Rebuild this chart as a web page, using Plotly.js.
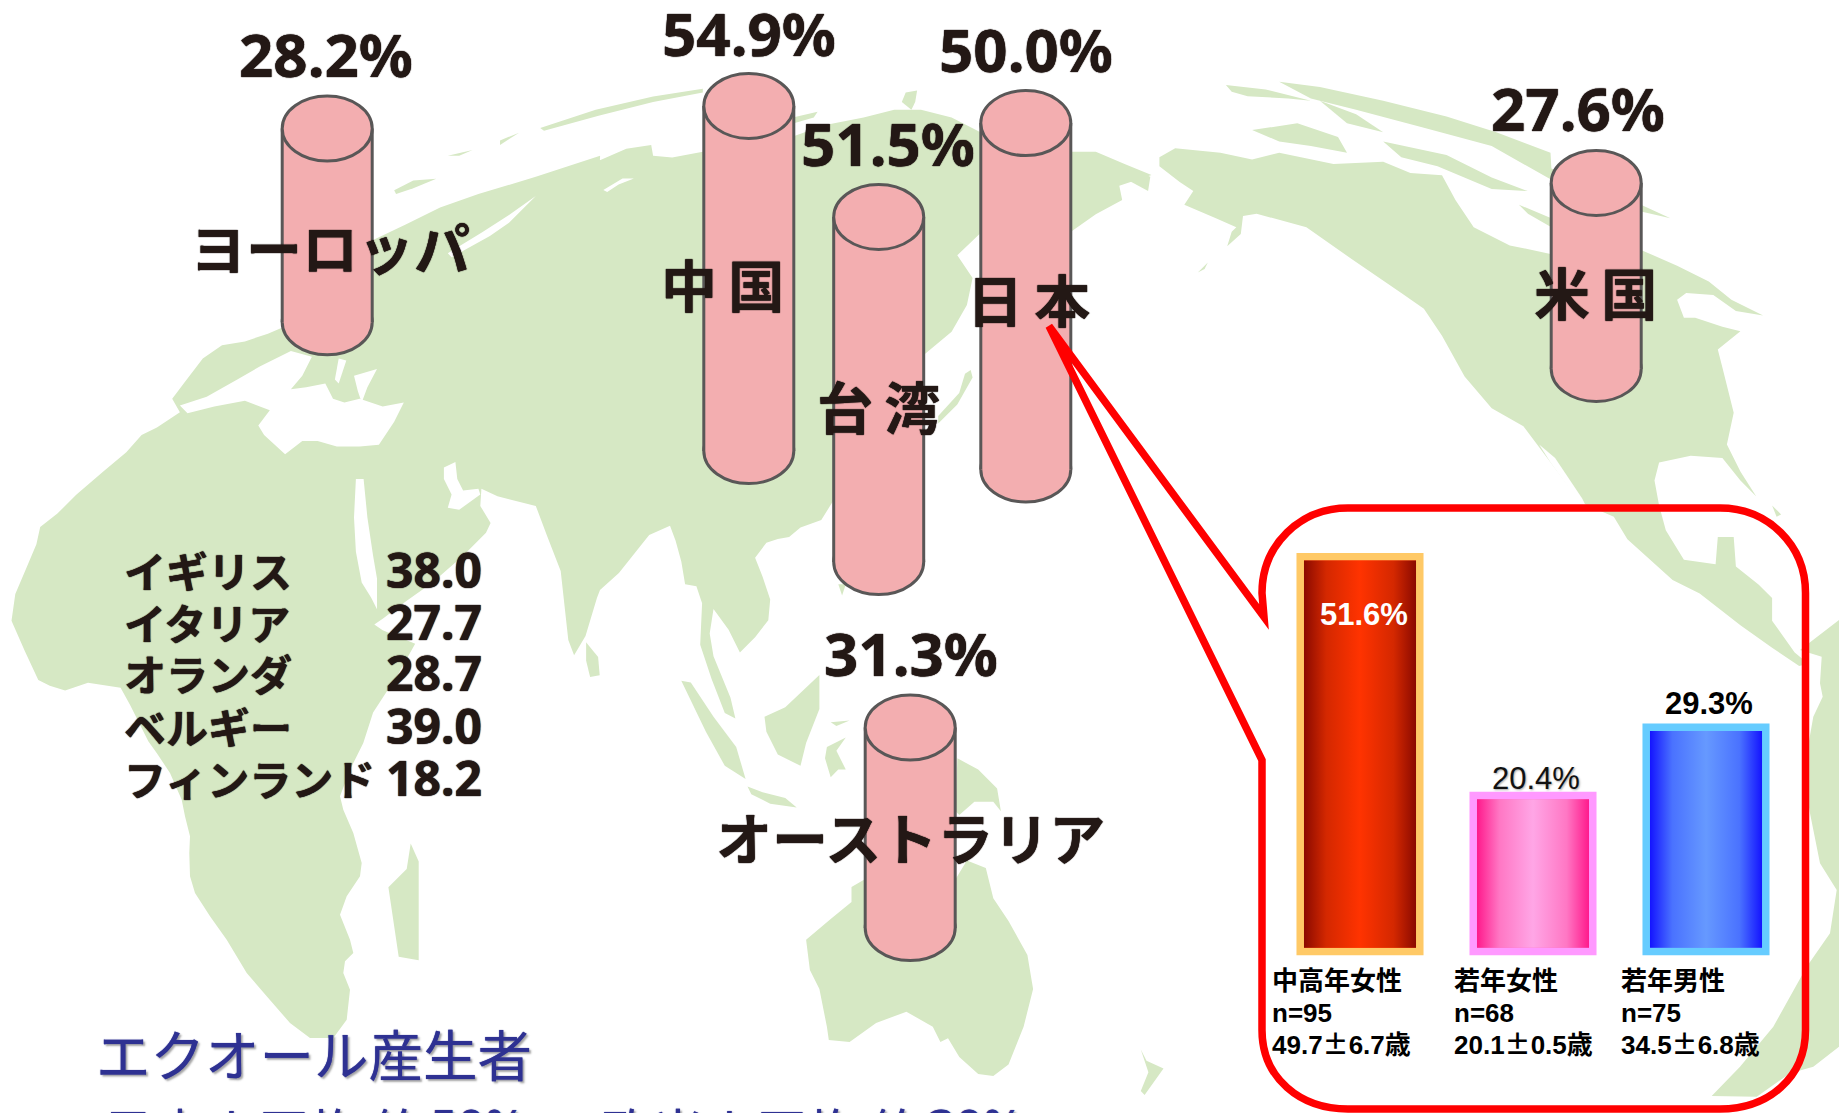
<!DOCTYPE html>
<html><head><meta charset="utf-8">
<script src="https://cdn.plot.ly/plotly-3.0.1.min.js"></script>
<style>html,body{margin:0;padding:0;background:#fff;overflow:hidden}#c{width:1839px;height:1113px}</style>
</head><body><div id="c"></div>
<script>
// ---- chart data ----
const regions = ['ヨーロッパ','中\u2009国','台\u2009湾','日\u2009本','米\u2009国','オーストラリア'];
const regionPercent = [28.2,54.9,51.5,50.0,27.6,31.3];
const cylinderCenter = [327.2,748.8,878.7,1025.8,1596.2,910.2];
const cylinderTop = [96,73.4,184.4,90.6,150.4,695];
const cylinderBottom = [354.7,483.6,594.6,502,401.4,960.6];
const percentLabelPos = [[326,54],[749,33],[888,143],[1026,49],[1578,108],[911,653]];
const regionLabelPos = [[330,245],[722,282],[878,404],[1028,297],[1595,290],[910,835]];

const tableCountries = ['イギリス','イタリア','オランダ','ベルギー','フィンランド'];
const tableValues = ['38.0','27.7','28.7','39.0','18.2'];
const tableRowY = [569,621,672,725,777];

const groups = ['中高年女性','若年女性','若年男性'];
const groupN = ['n=95','n=68','n=75'];
const groupAge = ['49.7','20.1','34.5'];
const groupAgeSd = ['6.7','0.5','6.8'];
const groupPercent = [51.6,20.4,29.3];

const Z2={ox:920,oy:0,sx:1.706,sy:2.8}, Z5={ox:0,oy:150,sx:2.613,sy:2.613}, Z6={ox:0,oy:713,sx:3,sy:3},
      Z7={ox:500,oy:60,sx:2.613,sy:2.613}, Z8={ox:600,oy:520,sx:2.644,sy:2.644}, Z9={ox:1130,oy:60,sx:2.2115,sy:2.2115},
      Z11={ox:1640,oy:600,sx:3,sy:3};
const eurasiaAfrica = [
 [Z6,[1000,975,930,975,870,930,800,850,740,780,680,680,630,610,585,540,570,490,568,420,570,370,555,310,545,260,510,180,470,120,445,85]],
 [Z5,[340,1450,315,1405,230,1392,170,1412,130,1400,100,1385,65,1310,30,1230,40,1160,70,1090,95,1030,105,985,150,950,200,900,270,840,330,790,370,745,410,725,470,685,450,650,480,610,530,545,580,510,640,500,700,480,735,465,975,235,1060,195,1150,150,1250,115,1400,70,1568,15]],
 [Z7,[261,262,330,232,395,222,400,250,450,255,530,240,765,200,850,170,950,150,1030,130,1100,130,1180,150,1258,190]],
 [Z2,[257,425,300,425,350,460,395,490,340,520,345,560,300,600,257,650]],
 [Z7,[1258,450,1195,510,1235,570,1220,640,1180,710,1108,770]],
 [Z8,[585,0,530,20,500,45,470,50,440,60,410,100,430,150,450,210,445,265,410,310,370,350,340,290,300,235,290,300,300,360,345,470,358,525,330,510,295,420,265,330,270,220,255,175,225,170,215,110,200,55,185,15,130,40,110,65,50,140,0,185]],
 [Z5,[1560,1170,1530,1270,1500,1320,1485,1280,1465,1100,1430,1010,1400,930,1300,905,1258,885,1255,930,1282,975,1270,1000,1210,1060,1130,1130,1060,1180,1000,1225,978,1240,1000,1255,1085,1290,1040,1370,975,1470]],
 [Z6,[1090,90,1050,170,1020,250,1030,290,1060,360,1085,450,1080,490,1040,550,1020,605,1050,680,1060,720,1035,745,1030,780,1050,830,1040,920]]
];
const northAmerica = [[Z9,[65,215,100,195,200,205,270,220,330,205,450,230,560,225,620,250,690,255,720,310,760,370,840,410,935,430,1130,420,1210,455,1280,490,1330,530,1400,565,1340,555,1290,520,1230,515,1210,530,1225,570,1250,570,1310,590,1350,600,1300,640,1310,680,1335,780,1320,850,1350,910,1385,965,1350,930,1310,880,1240,875,1170,890,1160,930,1170,985,1185,1040,1225,1105,1295,1115,1300,1055,1335,1055,1340,1120,1390,1160,1420,1190,1420,1240,1470,1310,1500,1335,1480,1340,1420,1300,1350,1250,1260,1180,1200,1150,1100,1060,1070,1010,1000,980,960,930,870,810,800,770,740,700,690,610,650,550,600,515,490,440,390,370,280,340,250,345,245,385,215,412,225,380,235,370,190,350,120,320,140,290,110,270,65,235]]];
const southAmerica = [[Z11,[480,150,545,170,540,250,548,290,520,350,490,520,510,640,540,790,590,870,570,1000,500,1100,400,1280,300,1400,215,1488,350,1490,450,1420,520,1400,597,1340,597,60]]];
const australia = [[Z8,[545,1110,610,1055,665,1010,665,970,700,950,940,950,970,900,1020,920,1040,1000,1080,1060,1130,1150,1145,1240,1120,1340,1080,1440,1040,1470,1000,1465,950,1420,920,1370,900,1380,880,1340,810,1300,730,1330,660,1380,605,1375,600,1340,580,1240,555,1190]]];
const islands = [
 [[Z8,[945,630,1000,660,1050,710,1060,770,1040,745,990,745,950,780,940,770]]],
 [[Z8,[490,495,580,410,580,500,545,590,530,650,470,620,440,560,435,520]]],
 [[Z8,[215,425,240,430,300,520,360,600,385,685,330,650,280,560]]],
 [[Z8,[390,705,430,720,490,735,520,760,450,750,400,725]]],
 [[Z8,[600,600,650,575,625,610,650,660,630,660,610,680,595,630]]],
 [[Z8,[610,535,660,530,625,545]]],
 [[Z8,[630,170,650,170,640,200]]],
 [[Z8,[1430,1400,1445,1430,1490,1450,1440,1520,1430,1510,1450,1460]]],
 [[Z7,[1230,810,1235,830,1195,900,1145,950,1145,930,1200,870,1215,820]]],
 [[Z7,[1050,110,1060,85,1090,80,1085,110,1075,130]]],
 [[Z7,[105,178,250,130,400,95,530,75,530,85,400,110,260,145,115,185]]],
 [[Z7,[765,150,830,135,820,150,770,165]]],
 [[Z5,[1030,105,1080,80,1140,75,1080,100,1035,115]]],
 [[Z5,[1170,15,1235,0,1200,15]]],
 [[Z7,[0,210,50,190,0,222]]],
 [[Z9,[330,48,420,60,560,90,700,125,810,160,930,205,932,240,1130,320,1195,350,1130,335,932,265,800,190,650,150,500,110,400,85]]],
 [[Z9,[212,55,300,65,400,90,350,85,260,80,225,70]]],
 [[Z9,[270,155,370,140,460,170,480,205,400,190,330,180]]],
 [[Z9,[560,180,700,210,800,260,880,290,800,285,680,235,600,215]]],
 [[Z9,[420,90,500,120,560,160,480,140]]],
 [[Z9,[860,320,932,350,932,370,880,340]]],
 [[Z9,[1420,985,1440,1005,1430,1010]]],
 [[Z9,[150,470,172,448,165,462]]],
 [[Z9,[0,240,45,258,40,290,0,268]]],
 [[{ox:0,oy:540,sx:1.254,sy:2.736},[515,830,525,880,525,1150,500,1140,487,950,510,900]]],
 [[{ox:0,oy:540,sx:1.254,sy:2.736},[735,280,750,320,752,370,740,375,735,330]]]
];
const seas = [
 [[Z5,[470,668,540,645,620,600,680,565,760,525,815,540,790,590,760,625,800,620,850,610,870,650,900,660,940,650,1000,670,1055,660,1030,710,990,770,940,775,880,775,830,760,790,760,745,795,690,745,675,720,705,680,640,655,560,670,490,688]]],
 [[Z5,[885,545,905,550,885,610,875,600]]],
 [[Z5,[925,590,985,572,960,620,945,660,935,630]]],
 [[Z5,[930,860,950,860,960,960,975,1060,985,1120,985,1200,970,1170,945,1130,930,1050,925,960]]],
 [[Z5,[1160,830,1190,815,1195,860,1210,890,1250,885,1255,900,1200,940,1170,935,1180,900,1160,860]]],
 [[Z5,[1170,270,1260,215,1330,170,1400,120,1330,190,1280,225,1180,280]]],
 [[Z7,[270,340,320,310,350,310,310,325,280,345]]],
 [[Z9,[905,850,940,880,1000,970,1020,1010,980,960,930,890]]]
];

// ---- styles ----
const INK='#231815', LAND='#d6e8c4', PINK='#f3aeb0', EDGE='#595757', RED='#ff0000';
const ELLIPSE_H=65, CYL_W=90, EDGE_W=3;
const LATIN="'Noto Sans','Noto Sans CJK JP',sans-serif", JP="'Noto Sans CJK JP','Noto Sans',sans-serif", ARIAL="'Liberation Sans','Noto Sans CJK JP',sans-serif";
const HEAVY='0 0 1px '+INK+', 0 0 1px '+INK;

function pathOf(segs){
  let p=[];
  segs.forEach(([z,a])=>{for(let i=0;i<a.length;i+=2)p.push((z.ox+a[i]/z.sx).toFixed(1)+','+(z.oy+a[i+1]/z.sy).toFixed(1));});
  return 'M'+p.join('L')+'Z';
}
const shapes=[];
const mapShape=(segs,color)=>shapes.push({type:'path',path:pathOf(segs),xref:'x',yref:'y',layer:'below',fillcolor:color,line:{width:0}});
[eurasiaAfrica,northAmerica,southAmerica,australia,...islands].forEach(s=>mapShape(s,LAND));
seas.forEach(s=>mapShape(s,'#ffffff'));

cylinderCenter.forEach((c,i)=>{
  const edge={color:EDGE,width:EDGE_W};
  shapes.push({type:'circle',xref:'x',yref:'y',layer:'below',x0:c-CYL_W/2,x1:c+CYL_W/2,y0:cylinderBottom[i]-ELLIPSE_H,y1:cylinderBottom[i],fillcolor:PINK,line:edge});
  [c-CYL_W/2,c+CYL_W/2].forEach(x=>shapes.push({type:'line',xref:'x',yref:'y',layer:'above',x0:x,x1:x,y0:cylinderTop[i]+ELLIPSE_H/2,y1:cylinderBottom[i]-ELLIPSE_H/2,line:edge}));
  shapes.push({type:'circle',xref:'x',yref:'y',layer:'above',x0:c-CYL_W/2,x1:c+CYL_W/2,y0:cylinderTop[i],y1:cylinderTop[i]+ELLIPSE_H,fillcolor:PINK,line:edge});
});

// red speech-bubble around the inset
shapes.push({type:'path',xref:'x',yref:'y',layer:'above',line:{color:RED,width:7.5},fillcolor:'rgba(0,0,0,0)',
 path:'M1049,326 L1264,617 L1262,593 C1262,545 1300,508 1348,508 L1720,508 C1768,508 1805.5,545 1805.5,593 L1805.5,1030 C1805.5,1078 1768,1109 1720,1109 L1348,1109 C1300,1109 1262,1078 1262,1030 L1262,760 Z'});

// ---- traces ----
const traces=[{type:'bar',x:cylinderCenter,base:cylinderTop.map(t=>t+ELLIPSE_H/2),
  y:cylinderBottom.map((b,i)=>b-cylinderTop[i]-ELLIPSE_H),width:CYL_W,marker:{color:PINK,line:{width:0}},hoverinfo:'skip',xaxis:'x',yaxis:'y'}];

const PX_X=173, PX_Y=7.65, BASE_PX=951.5, BAR_LINE=7.5, BAR_W=0.691;
const insetX=[0,1,2];
traces.push({type:'bar',x:insetX,y:groupPercent,width:BAR_W,xaxis:'x2',yaxis:'y2',hoverinfo:'skip',cliponaxis:false,
  marker:{color:['#ff3300','#ff66cc','#6699ff'],line:{color:['#ffc966','#ff99ff','#66ccff'],width:BAR_LINE}}});
const gradients=[['#8b0a00','#d42800','#ff3300'],['#ff1a8c','#ff77c4','#ffa6e6'],['#1414ff','#4a72ff','#6699ff']];
insetX.forEach((i,k)=>{
  const dx=BAR_W/2-BAR_LINE/2/PX_X, dy=BAR_LINE/2/PX_Y, v=groupPercent[k], g=gradients[k];
  traces.push({type:'scatter',mode:'lines',xaxis:'x2',yaxis:'y2',hoverinfo:'skip',
    x:[i-dx,i+dx,i+dx,i-dx,i-dx],y:[dy,dy,v-dy,v-dy,dy],fill:'toself',line:{width:0},
    fillgradient:{type:'horizontal',colorscale:[[0,g[0]],[0.2,g[1]],[0.5,g[2]],[0.8,g[1]],[1,g[0]]]}});
});

// ---- text ----
const ann=[];
const T=(x,y,text,size,opt={})=>ann.push(Object.assign({xref:'x',yref:'y',x,y,text,showarrow:false,xanchor:'center',yanchor:'middle',
  font:Object.assign({size,color:INK,family:LATIN,weight:700},opt.font||{})},opt.a||{}));
regionPercent.forEach((v,i)=>T(percentLabelPos[i][0],percentLabelPos[i][1],v.toFixed(1)+'%',60,{font:{shadow:HEAVY}}));
regions.forEach((r,i)=>T(regionLabelPos[i][0],regionLabelPos[i][1],r,56,{font:{family:JP,shadow:HEAVY}}));
tableCountries.forEach((n,i)=>{
  T(122,tableRowY[i],n,42,{font:{family:JP,shadow:HEAVY},a:{xanchor:'left'}});
  T(384,tableRowY[i],tableValues[i],48,{font:{shadow:HEAVY},a:{xanchor:'left'}});
});
const NAVY='#2e3192', SHADOW='0 0 1px '+NAVY+', 2px 2px 2px rgba(60,60,60,.45)';
const navyFont={family:JP,weight:400,color:NAVY,shadow:SHADOW};
T(94,1052,'エクオール産生者',54.5,{font:navyFont,a:{xanchor:'left'}});
// the second line runs off the bottom of the picture, as in the reference
const paperY=y=>1-y/1113;
const runOff=(x,y,text,size,family)=>T(x,0,text,size,{font:Object.assign({},navyFont,{family}),a:{xanchor:'left',yref:'paper',y:paperY(y)}});
runOff(100,1130,'日本人平均 約',52,JP);
runOff(428,1125,'50%,',48,LATIN);
runOff(598,1130,'欧米人平均 約',52,JP);
runOff(926,1125,'30%',48,LATIN);

const labelLeft=[1270,1452,1619];
const blackFont={family:ARIAL,color:'#000'};
groups.forEach((g,i)=>{
  T(labelLeft[i],980.5,g,26,{font:blackFont,a:{xanchor:'left'}});
  T(labelLeft[i],1012.5,groupN[i],26,{font:blackFont,a:{xanchor:'left'}});
  T(labelLeft[i],1042,groupAge[i]+'<span style="font-family:\'Noto Sans CJK JP\'">±</span>'+groupAgeSd[i]+'歳',26,{font:blackFont,a:{xanchor:'left'}});
});
const valStyle=[{color:'#fff',weight:700},{color:'#111',weight:400,shadow:'1px 1px 2px rgba(80,80,80,.5)'},{color:'#000',weight:700}];
const valShift=[[4,-58],[3,17.4],[3,24]];
groupPercent.forEach((v,i)=>ann.push({xref:'x2',yref:'y2',x:insetX[i],y:v,text:v.toFixed(1)+'%',showarrow:false,xanchor:'center',yanchor:'middle',
  xshift:valShift[i][0],yshift:valShift[i][1],font:Object.assign({size:31,family:ARIAL},valStyle[i])}));

const H=1113,W=1839,YMIN=-1,YMAX=60;
const hidden={visible:false,fixedrange:true};
Plotly.newPlot('c',traces,{
  width:W,height:H,margin:{l:0,r:0,t:0,b:0},paper_bgcolor:'#fff',plot_bgcolor:'rgba(0,0,0,0)',showlegend:false,barmode:'overlay',
  xaxis:Object.assign({range:[0,W],domain:[0,1]},hidden),
  yaxis:Object.assign({range:[H,0],domain:[0,1]},hidden),
  xaxis2:Object.assign({anchor:'y2',range:[-0.5,2.5],domain:[1273.5/W,1792.5/W]},hidden),
  yaxis2:Object.assign({anchor:'x2',range:[YMIN,YMAX],domain:[1-(BASE_PX-YMIN*PX_Y)/H,1-(BASE_PX-YMAX*PX_Y)/H]},hidden),
  shapes,annotations:ann
},{staticPlot:true,displayModeBar:false});
</script></body></html>
